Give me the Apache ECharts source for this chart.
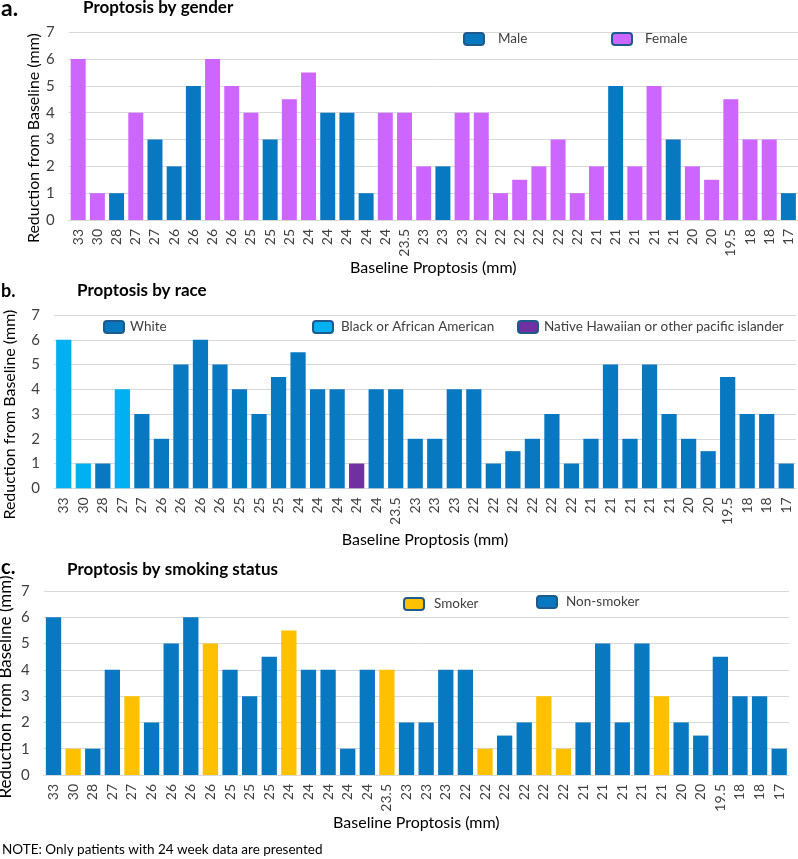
<!DOCTYPE html>
<html>
<head>
<meta charset="utf-8">
<script src="https://cdn.jsdelivr.net/npm/echarts@6/dist/echarts.min.js"></script>
<style>
html,body{margin:0;padding:0;background:#fff;}
#chart{width:798px;height:859px;}
</style>
</head>
<body>
<div id="chart"></div>
<script>
// ---- data ----
const categories = ['33','30','28','27','27','26','26','26','26','25','25','25','24','24','24','24','24','23.5','23','23','23','22','22','22','22','22','22','21','21','21','21','21','20','20','19.5','18','18','17'];
const reduction = [6,1,1,4,3,2,5,6,5,4,3,4.5,5.5,4,4,1,4,4,2,2,4,4,1,1.5,2,3,1,2,5,2,5,3,2,1.5,4.5,3,3,1];
const gender = ['F','F','M','F','M','M','M','F','F','F','M','F','F','M','M','M','F','F','F','M','F','F','F','F','F','F','F','F','M','F','F','M','F','F','F','F','F','M'];
const race = ['B','B','W','B','W','W','W','W','W','W','W','W','W','W','W','N','W','W','W','W','W','W','W','W','W','W','W','W','W','W','W','W','W','W','W','W','W','W'];
const smoking = ['N','S','N','N','S','N','N','N','S','N','N','N','S','N','N','N','N','S','N','N','N','N','S','N','N','S','S','N','N','N','N','S','N','N','N','N','N','N'];
const yTicks = [0,1,2,3,4,5,6,7];

const genderGroups = [{key:'M', name:'Male', color:'#0878C1'},{key:'F', name:'Female', color:'#CC66FF'}];
const raceGroups = [{key:'W', name:'White', color:'#0878C1'},{key:'B', name:'Black or African American', color:'#00B0F0'},{key:'N', name:'Native Hawaiian or other pacific islander', color:'#7030A0'}];
const smokeGroups = [{key:'S', name:'Smoker', color:'#FFC000'},{key:'N', name:'Non-smoker', color:'#0878C1'}];

const FONT = 'Lato';
const TXT = '#404040';
const GRID = '#d9d9d9';

const grids = [
  {left:68.6, right:0, top:32.3, height:187.7},
  {left:54, right:2, top:315, height:173.3},
  {left:43.7, right:9, top:591, height:184}
];
const xNameGap = [40, 44, 40];
const yNameGap = [27, 36, 30];
const yNameSize = [16, 16, 17];
const yNamePad = [[0,24,0,0],[0,26,0,0],[0,8,0,0]];

function makeSeries(groups, attr, idx){
  return groups.map(g => ({
    name: g.name,
    type: 'bar',
    stack: 'p'+idx,
    xAxisIndex: idx, yAxisIndex: idx,
    barCategoryGap: '22%',
    itemStyle: {color: g.color},
    data: reduction.map((v,i) => attr[i] === g.key ? v : '-')
  }));
}

const xAxes = grids.map((g,i) => ({
  type:'category', gridIndex:i, data: categories,
  name:'Baseline Proptosis (mm)', nameLocation:'middle', nameGap: xNameGap[i], nameMoveOverlap:false,
  nameTextStyle:{fontFamily:FONT, fontSize:16, color:'#000'},
  axisLine:{lineStyle:{color:GRID}}, axisTick:{show:false},
  axisLabel:{rotate:90, interval:0, fontFamily:FONT, fontSize:14, color:TXT, margin:9}
}));
const yAxes = grids.map((g,i) => ({
  type:'value', gridIndex:i, min:yTicks[0], max:yTicks[yTicks.length-1], interval:1,
  name:'Reduction from Baseline (mm)', nameLocation:'middle', nameGap: yNameGap[i], nameMoveOverlap:false,
  nameTextStyle:{fontFamily:FONT, fontSize:yNameSize[i], color:'#000', padding:yNamePad[i]},
  axisLine:{show:false}, axisTick:{show:false},
  splitLine:{lineStyle:{color:GRID}},
  axisLabel:{fontFamily:FONT, fontSize:15, color:TXT, margin:14}
}));

const legendPos = [
  ['Male',463,41,14],['Female',611,41,13],
  ['White',103,329,6],['Black or African American',312,329,8],['Native Hawaiian or other pacific islander',517,329,6],
  ['Smoker',403,606,10],['Non-smoker',536,604,9]
];
const legends = legendPos.map(([n,x,y,gap]) => ({
  data:[n], left:x, top:y-9, padding:0, itemWidth:20, itemHeight:12, icon:'roundRect',
  itemStyle:{borderColor:'#1F5A8C', borderWidth:2},
  textStyle:{fontFamily:FONT, fontSize:13.5, color:TXT, padding:[0,0,0,gap-5]},
  selectedMode:false
}));

const titles = [
  {text:'a.', left:1, top:-3, padding:0, textStyle:{fontFamily:FONT, fontSize:23, fontWeight:'bold', color:'#000'}},
  {text:'Proptosis by gender', left:83, top:-1, padding:0, textStyle:{fontFamily:FONT, fontSize:17, fontWeight:'bold', color:'#000'}},
  {text:'b.', left:1, top:282, padding:0, textStyle:{fontFamily:FONT, fontSize:18, fontWeight:'bold', color:'#000'}},
  {text:'Proptosis by race', left:77, top:282, padding:0, textStyle:{fontFamily:FONT, fontSize:17, fontWeight:'bold', color:'#000'}},
  {text:'c.', left:1, top:558, padding:0, textStyle:{fontFamily:FONT, fontSize:20, fontWeight:'bold', color:'#000'}},
  {text:'Proptosis by smoking status', left:67, top:561, padding:0, textStyle:{fontFamily:FONT, fontSize:17, fontWeight:'bold', color:'#000'}},
  {text:'NOTE: Only patients with 24 week data are presented', left:2, top:843, padding:0, textStyle:{fontFamily:FONT, fontSize:13.5, fontWeight:'normal', color:'#000'}}
];

const chart = echarts.init(document.getElementById('chart'), null, {renderer:'canvas'});
chart.setOption({
  animation:false,
  backgroundColor:'#fff',
  title: titles,
  legend: legends,
  grid: grids.map(g => Object.assign({containLabel:false, outerBoundsMode:'none'}, g)),
  xAxis: xAxes,
  yAxis: yAxes,
  series: [].concat(makeSeries(genderGroups, gender, 0), makeSeries(raceGroups, race, 1), makeSeries(smokeGroups, smoking, 2))
});
</script>
</body>
</html>
